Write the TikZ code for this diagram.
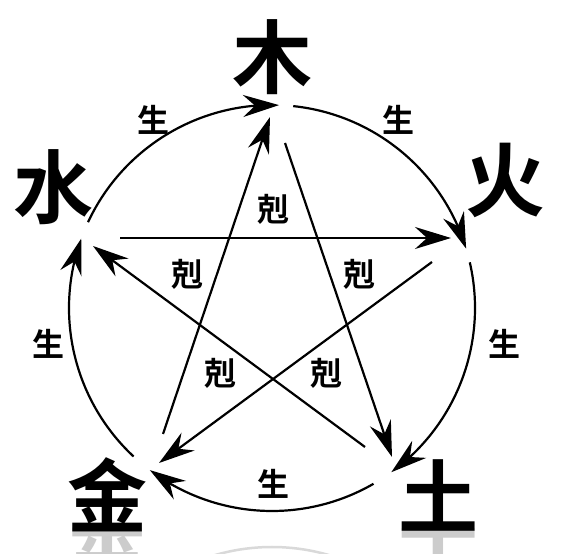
\documentclass[tikz,border=0pt]{standalone}
\usepackage{fontspec}
\newfontfamily\cjk{Noto Sans CJK TC}[BoldFont={Noto Sans CJK TC Bold}]
\usetikzlibrary{arrows.meta,bending,calc}
\tikzset{
  elem/.style={inner sep=0pt,font=\cjk\bfseries\fontsize{80}{80}\selectfont},
  lbl/.style={inner sep=0pt,font=\cjk\bfseries\fontsize{32}{32}\selectfont},
  refl/.style={inner sep=0pt,text=gray!40,yscale=-1,font=\cjk\bfseries\fontsize{80}{80}\selectfont},
  rel/.style={line width=2.2pt,-{Stealth[length=36pt,width=22pt,inset=12pt]}},
}
\begin{document}
\begin{tikzpicture}[x=1pt,y=1pt]
\useasboundingbox (0,0) rectangle (568,554);
\clip (0,0) rectangle (568,554);
\fill[white] (0,0) rectangle (568,554);
% reflections
\draw[gray!30,line width=2.5pt] (272,-196) circle[radius=203];
\node[refl] (jinr) at (107,-11) {金};
\node[refl] (tur) at (438,-11) {土};
% elements
\node[elem] (mu) at (272,497) {木};
\node[elem] (huo) at (505,374) {火};
\node[elem] (tu) at (438,59) {土};
\node[elem] (jin) at (107,59) {金};
\node[elem] (shui) at (53,367) {水};
% centre of the cycle
\coordinate (O) at (272,246);
% sheng arcs
\draw[rel] ($(O)+(155:203)$) arc[start angle=155,end angle=88,radius=203];
\draw[rel] ($(O)+(84:203)$) arc[start angle=84,end angle=17,radius=203];
\draw[rel] ($(O)+(13:203)$) arc[start angle=13,end angle=-54,radius=203];
\draw[rel] ($(O)+(-60:203)$) arc[start angle=-60,end angle=-127,radius=203];
\draw[rel] ($(O)+(-133:203)$) arc[start angle=-133,end angle=-200,radius=203];
% ke star endpoints
\coordinate (jinA) at (163,120); \coordinate (muB) at (270,437);
\coordinate (muA) at (285,411);  \coordinate (tuB) at (392,97);
\coordinate (tuA) at (365,107);  \coordinate (shuiB) at (93,308);
\coordinate (shuiA) at (120,316); \coordinate (huoB) at (451,316);
\coordinate (huoA) at (432,292); \coordinate (jinB) at (159,91);
\draw[rel] (jinA) -- (muB);
\draw[rel] (muA) -- (tuB);
\draw[rel] (tuA) -- (shuiB);
\draw[rel] (shuiA) -- (huoB);
\draw[rel] (huoA) -- (jinB);
% labels
\node[lbl] (s1) at (153,434) {生};
\node[lbl] (s2) at (398,434) {生};
\node[lbl] (s3) at (504,210) {生};
\node[lbl] (s4) at (273,70) {生};
\node[lbl] (s5) at (48,210) {生};
\node[lbl] (k1) at (273,345) {剋};
\node[lbl] (k2) at (187,280) {剋};
\node[lbl] (k3) at (359,280) {剋};
\node[lbl] (k4) at (220,181) {剋};
\node[lbl] (k5) at (326,181) {剋};
\end{tikzpicture}
\end{document}
